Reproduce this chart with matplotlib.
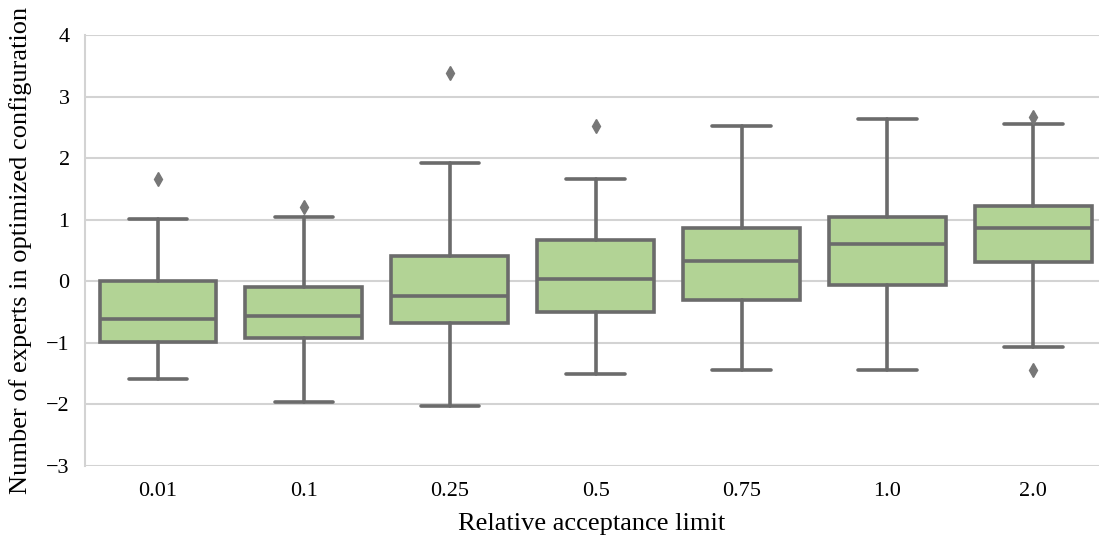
import numpy as np
import matplotlib
matplotlib.use("Agg")
import matplotlib.pyplot as plt

# categories and box statistics
limits = ["0.01", "0.1", "0.25", "0.5", "0.75", "1.0", "2.0"]
whis_lo = [-1.58, -1.96, -2.03, -1.51, -1.44, -1.44, -1.07]
q1 = [-0.99, -0.92, -0.68, -0.50, -0.30, -0.06, 0.31]
med = [-0.61, -0.56, -0.24, 0.04, 0.33, 0.60, 0.86]
q3 = [0.00, -0.09, 0.41, 0.67, 0.87, 1.04, 1.23]
whis_hi = [1.01, 1.04, 1.92, 1.66, 2.52, 2.63, 2.56]
outliers = [[1.66], [1.21], [3.38], [2.52], [], [], [2.67, -1.44]]

plt.rcParams["font.family"] = ["Liberation Serif", "DejaVu Serif"]

box_fill = "#b2d395"
edge = "#6b6b6b"

stats = []
for i, lab in enumerate(limits):
    stats.append({
        "label": lab,
        "whislo": whis_lo[i],
        "q1": q1[i],
        "med": med[i],
        "q3": q3[i],
        "whishi": whis_hi[i],
        "fliers": outliers[i],
    })

fig = plt.figure(figsize=(10.99, 5.45), dpi=100)
ax = fig.add_axes([85 / 1099, 79 / 545, 1014 / 1099, 431 / 545])

ax.bxp(
    stats,
    positions=np.arange(len(limits)),
    widths=0.8,
    patch_artist=True,
    boxprops=dict(facecolor=box_fill, edgecolor=edge, linewidth=2.6),
    medianprops=dict(color=edge, linewidth=2.6),
    whiskerprops=dict(color=edge, linewidth=2.6, solid_capstyle="round"),
    capprops=dict(color=edge, linewidth=2.6, solid_capstyle="round"),
    flierprops=dict(marker="d", markerfacecolor="#777777", markeredgecolor="#777777",
                    markersize=7),
    zorder=3,
)

ax.set_xlim(-0.5, 6.45)
ax.set_ylim(-3, 4)
ax.set_yticks(range(-3, 5))
ax.set_yticklabels([str(v).replace("-", "\u2212") for v in range(-3, 5)])
ax.yaxis.grid(True, color="#d3d3d3", linewidth=1.5, zorder=0)
ax.set_axisbelow(True)
for side in ["top", "right", "bottom"]:
    ax.spines[side].set_visible(False)
ax.spines["left"].set_color("#d3d3d3")
ax.spines["left"].set_linewidth(1.5)
ax.tick_params(axis="both", length=0, labelsize=16)
ax.tick_params(axis="y", pad=11)
ax.tick_params(axis="x", pad=11.5)

ax.set_xlabel("Relative acceptance limit", fontsize=19, labelpad=9)
ax.set_ylabel("Number of experts in optimized configuration", fontsize=19, labelpad=10)

fig.savefig("out.png", dpi=100)
